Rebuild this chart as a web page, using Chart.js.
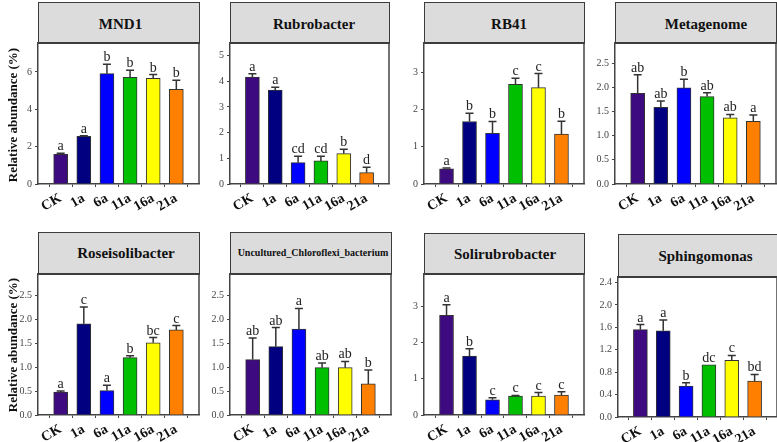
<!DOCTYPE html>
<html><head><meta charset="utf-8">
<script src="https://cdn.jsdelivr.net/npm/chart.js@4/dist/chart.umd.min.js"></script>
<style>
html,body{margin:0;padding:0;background:#fff;}
body{width:777px;height:442px;position:relative;overflow:hidden;font-family:"Liberation Serif","Times New Roman",Tinos,"DejaVu Serif","Noto Serif",serif;}
.hdr{position:absolute;box-sizing:border-box;border:1px solid #3c3c3c;border-bottom:2px solid #3c3c3c;background:#dcdcdc;}
.ttl{position:absolute;font-weight:bold;white-space:nowrap;transform:translate(-50%,-50%);color:#111;line-height:1;}
.cv{position:absolute;}
.ylab{position:absolute;font-weight:bold;font-size:13px;white-space:nowrap;color:#111;transform:translate(-50%,-50%) rotate(-90deg);line-height:1;}
</style></head><body>
<script>
// ---- data ----
const categories = ['CK', '1a', '6a', '11a', '16a', '21a'];
const barColors = ['#3d0a80', '#000080', '#0000ff', '#00bf00', '#ffff00', '#ff8000'];

const mnd1 = [1.59, 2.55, 5.91, 5.71, 5.66, 5.07];
const mnd1Err = [0.05, 0.04, 0.50, 0.38, 0.20, 0.48];
const mnd1Letters = ['a', 'a', 'b', 'b', 'b', 'b'];

const rubrobacter = [4.16, 3.66, 0.83, 0.90, 1.18, 0.44];
const rubrobacterErr = [0.13, 0.11, 0.25, 0.18, 0.17, 0.21];
const rubrobacterLetters = ['a', 'a', 'cd', 'cd', 'b', 'd'];

const rb41 = [0.41, 1.68, 1.36, 2.68, 2.59, 1.34];
const rb41Err = [0.02, 0.22, 0.32, 0.16, 0.38, 0.35];
const rb41Letters = ['a', 'b', 'b', 'c', 'c', 'b'];

const metagenome = [1.88, 1.59, 1.99, 1.81, 1.37, 1.30];
const metagenomeErr = [0.38, 0.13, 0.18, 0.08, 0.07, 0.13];
const metagenomeLetters = ['ab', 'ab', 'b', 'ab', 'ab', 'a'];

const roseisolibacter = [0.48, 1.91, 0.51, 1.20, 1.51, 1.78];
const roseisolibacterErr = [0.02, 0.35, 0.11, 0.04, 0.11, 0.09];
const roseisolibacterLetters = ['a', 'c', 'a', 'b', 'bc', 'c'];

const chloroflexi = [1.16, 1.43, 1.80, 0.99, 0.99, 0.65];
const chloroflexiErr = [0.45, 0.40, 0.43, 0.10, 0.13, 0.29];
const chloroflexiLetters = ['ab', 'ab', 'a', 'ab', 'ab', 'b'];

const solirubrobacter = [2.76, 1.63, 0.42, 0.52, 0.52, 0.55];
const solirubrobacterErr = [0.29, 0.20, 0.06, 0.02, 0.10, 0.09];
const solirubrobacterLetters = ['a', 'b', 'c', 'c', 'c', 'c'];

const sphingomonas = [1.56, 1.54, 0.55, 0.93, 1.01, 0.64];
const sphingomonasErr = [0.09, 0.19, 0.06, 0.00, 0.09, 0.12];
const sphingomonasLetters = ['a', 'a', 'b', 'dc', 'c', 'bd'];

const yAxisTitle = 'Relative abundance (%)';

// ---- layout ----
const SERIF = '"Liberation Serif", "Times New Roman", Tinos, "DejaVu Serif", "Noto Serif", serif';
const panels = [
  {title:'MND1', values:mnd1, errs:mnd1Err, letters:mnd1Letters, max:7.55, step:2, dec:0, L:38, R:199, hTop:2, T:43, B:184, tx:120.5, ty:24, fs:15},
  {title:'Rubrobacter', values:rubrobacter, errs:rubrobacterErr, letters:rubrobacterLetters, max:5.49, step:1, dec:0, L:230, R:389, hTop:2, T:43, B:184, tx:314, ty:24, fs:15},
  {title:'RB41', values:rb41, errs:rb41Err, letters:rb41Letters, max:3.79, step:1, dec:0, L:424, R:584, hTop:2, T:43, B:184, tx:509, ty:24, fs:15},
  {title:'Metagenome', values:metagenome, errs:metagenomeErr, letters:metagenomeLetters, max:2.92, step:0.5, dec:1, L:615, R:776, hTop:2, T:43, B:184, tx:706, ty:24, fs:15},
  {title:'Roseisolibacter', values:roseisolibacter, errs:roseisolibacterErr, letters:roseisolibacterLetters, max:2.95, step:0.5, dec:1, L:38, R:199, hTop:232, T:274, B:415, tx:126, ty:253, fs:15},
  {title:'Uncultured_Chloroflexi_bacterium', values:chloroflexi, errs:chloroflexiErr, letters:chloroflexiLetters, max:2.95, step:0.5, dec:1, L:230, R:391, hTop:232, T:274, B:415, tx:313, ty:253, fs:10},
  {title:'Solirubrobacter', values:solirubrobacter, errs:solirubrobacterErr, letters:solirubrobacterLetters, max:3.9, step:1, dec:0, L:424, R:584, hTop:233, T:274, B:415, tx:505, ty:253.5, fs:15},
  {title:'Sphingomonas', values:sphingomonas, errs:sphingomonasErr, letters:sphingomonasLetters, max:2.5, step:0.4, dec:1, L:618, R:777, hTop:234, T:277, B:417, tx:705.5, ty:255.5, fs:15}
];

const AXW = 40, PADT = 10, PADR = 15, XH = 40;
const lineColor = '#444';

function makePlugin(p){
  return {
    id:'errLetters',
    afterDatasetsDraw(chart){
      const ctx = chart.ctx;
      const ys = chart.scales.y;
      const meta = chart.getDatasetMeta(0);
      const area = chart.chartArea;
      ctx.save();
      ctx.strokeStyle = lineColor; ctx.lineWidth = 1.5;
      ctx.beginPath(); ctx.moveTo(area.right, area.top); ctx.lineTo(area.right, area.bottom); ctx.stroke();
      meta.data.forEach((bar, i) => {
        const v = p.values[i], e = p.errs[i];
        const x = bar.x;
        const y0 = ys.getPixelForValue(v);
        const y1 = ys.getPixelForValue(v + e);
        if (e > 0) {
          ctx.strokeStyle = '#333'; ctx.lineWidth = 1.5;
          ctx.beginPath();
          ctx.moveTo(x, y0); ctx.lineTo(x, y1);
          ctx.moveTo(x - 4, y1); ctx.lineTo(x + 4, y1);
          ctx.stroke();
        }
        ctx.fillStyle = '#222';
        ctx.font = '14px ' + SERIF;
        ctx.textAlign = 'center';
        ctx.textBaseline = 'alphabetic';
        ctx.fillText(p.letters[i], x, y1 - 3);
      });
      ctx.restore();
    }
  };
}

panels.forEach(p => {
  const hdr = document.createElement('div');
  hdr.className = 'hdr';
  hdr.style.left = p.L + 'px'; hdr.style.top = p.hTop + 'px';
  hdr.style.width = (p.R - p.L + 1) + 'px'; hdr.style.height = (p.T - p.hTop + 1) + 'px';
  document.body.appendChild(hdr);

  const t = document.createElement('div');
  t.className = 'ttl';
  t.textContent = p.title;
  t.style.left = p.tx + 'px'; t.style.top = p.ty + 'px'; t.style.fontSize = p.fs + 'px';
  document.body.appendChild(t);

  const cv = document.createElement('canvas');
  cv.className = 'cv';
  const w = p.R - p.L + AXW + PADR, h = p.B - p.T + PADT + XH;
  cv.width = w; cv.height = h;
  cv.style.width = w + 'px'; cv.style.height = h + 'px';
  cv.style.left = (p.L - AXW) + 'px'; cv.style.top = (p.T - PADT) + 'px';
  document.body.appendChild(cv);

  new Chart(cv, {
    type: 'bar',
    data: {
      datasets: [{
        data: p.values.map((v, i) => ({x: i, y: v})),
        backgroundColor: barColors,
        borderColor: '#333',
        borderWidth: 1,
        barThickness: 14
      }]
    },
    options: {
      responsive: false, animation: false, devicePixelRatio: 1,
      layout: {padding: {top: PADT, right: PADR, left: 0, bottom: 0}},
      plugins: {legend: {display: false}, tooltip: {enabled: false}, title: {display: false}},
      scales: {
        x: {
          type: 'linear', min: -0.98, max: 5.98, offset: false,
          ticks: {stepSize: 1, includeBounds: false, autoSkip: false, maxRotation: 30, minRotation: 30, padding: 3,
                  color: '#111', font: {family: SERIF, size: 14, weight: 'bold'},
                  callback: (v) => categories[v]},
          grid: {display: true, drawOnChartArea: false, drawTicks: true, tickLength: 3, color: lineColor},
          border: {display: true, color: lineColor, width: 1.5},
          afterFit: (s) => { s.height = XH; }
        },
        y: {
          min: 0, max: p.max,
          ticks: {stepSize: p.step, includeBounds: false, padding: 3, color: '#444',
                  font: {family: SERIF, size: 10},
                  callback: (v) => Number(v).toFixed(p.dec)},
          grid: {display: true, drawOnChartArea: false, drawTicks: true, tickLength: 3, color: lineColor},
          border: {display: true, color: lineColor, width: 1.5},
          afterFit: (s) => { s.width = AXW; }
        }
      }
    },
    plugins: [makePlugin(p)]
  });
});

[{x:12, y:115}, {x:12, y:345}].forEach(pos => {
  const d = document.createElement('div');
  d.className = 'ylab';
  d.textContent = yAxisTitle;
  d.style.left = pos.x + 'px'; d.style.top = pos.y + 'px';
  document.body.appendChild(d);
});
</script>
</body></html>
